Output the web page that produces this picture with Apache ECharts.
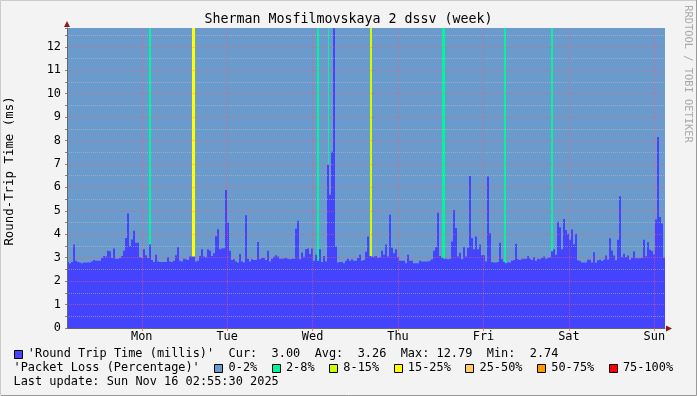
<!DOCTYPE html>
<html><head><meta charset="utf-8">
<script src="https://cdn.jsdelivr.net/npm/echarts@6/dist/echarts.min.js"></script>
<style>html,body{margin:0;padding:0;background:#f3f3f3;}#c{width:697px;height:396px;}</style>
</head><body><div id="c"></div>
<script>
const chartTitle = 'Sherman Mosfilmovskaya 2 dssv (week)';
const yAxisTitle = 'Round-Trip Time (ms)';
const sideText = 'RRDTOOL / TOBI OETIKER';
const dayNames = ['Mon', 'Tue', 'Wed', 'Thu', 'Fri', 'Sat', 'Sun'];
const startHour = 3;        // graph starts Sun 03:00
const spanHours = 168;      // one week
const yMax = 12.8;

// Round trip time (ms), equal time steps across the week
const rtt = [
  2.82,2.75,2.82,3.56,2.87,2.82,2.79,2.76,2.79,2.79,
  2.79,2.80,2.84,2.90,2.87,2.87,2.87,2.99,3.07,3.05,
  3.30,3.28,2.99,3.39,2.96,2.96,2.99,3.07,3.30,3.84,
  4.89,3.50,3.78,4.15,3.64,3.64,3.02,2.99,3.36,3.10,
  2.99,3.56,2.90,2.82,3.13,2.84,2.82,2.82,2.82,2.82,
  3.02,2.84,2.82,2.87,3.10,3.45,2.87,2.84,2.96,2.93,
  2.90,3.05,3.05,3.05,2.84,2.87,3.07,3.36,3.05,3.02,
  3.36,3.30,3.07,3.19,3.92,4.21,3.36,3.39,3.40,5.89,
  4.49,3.30,2.90,2.93,2.84,2.79,3.16,2.84,2.79,4.81,
  2.96,2.84,2.93,2.90,2.90,3.67,2.93,2.99,2.99,2.90,
  3.30,2.84,2.95,3.04,3.10,3.05,2.96,2.96,2.97,2.99,
  2.96,2.93,2.96,2.96,4.24,4.58,2.93,3.22,3.04,3.36,
  3.39,3.16,3.39,2.87,3.13,2.87,3.36,2.82,3.07,2.84,
  6.97,5.69,7.52,12.79,3.48,2.79,2.82,2.82,2.76,2.87,
  2.96,2.87,2.93,2.87,2.87,2.99,3.13,2.87,2.90,3.25,
  3.90,3.07,3.05,3.04,3.07,3.00,3.02,3.30,3.13,3.56,
  3.05,4.83,3.42,3.19,3.36,3.02,2.87,2.87,2.87,2.76,
  3.13,2.87,2.87,2.76,2.76,2.76,2.87,2.84,2.84,2.84,
  2.84,2.87,2.93,3.30,3.45,4.92,3.07,3.00,2.96,2.96,
  2.93,2.96,3.69,5.04,4.27,3.05,3.21,2.93,3.45,3.05,
  3.42,6.49,3.84,3.36,3.90,3.36,3.56,3.10,3.10,2.84,
  6.46,4.04,2.82,2.79,2.80,2.82,3.64,2.93,2.82,2.76,
  2.80,2.79,2.87,2.90,3.59,2.93,2.90,2.96,2.96,2.96,
  3.07,2.96,2.90,3.02,2.87,2.96,2.93,2.99,3.05,2.96,
  2.99,3.02,3.28,3.36,3.13,4.53,4.30,3.36,4.65,4.18,
  4.02,3.77,4.20,3.57,4.02,2.89,2.86,2.80,2.80,2.80,
  2.91,2.91,2.80,3.23,2.78,2.89,2.91,2.86,2.91,3.09,
  2.91,3.83,3.31,3.09,2.89,3.77,5.62,3.03,3.17,3.03,
  3.09,2.91,3.00,3.26,2.98,2.98,2.98,3.00,3.77,3.06,
  3.66,3.34,3.29,3.14,4.63,8.15,4.74,4.46,3.00
];

// Packet loss periods: start (hours from graph start), end, loss class index
const lossStart = [23.10, 35.17, 70.29, 73.38, 85.18, 105.41, 122.83, 136.03];
const lossEnd   = [23.66, 36.01, 70.85, 73.66, 85.74, 106.25, 123.39, 136.59];
const lossClass = [1, 3, 1, 1, 2, 1, 1, 1];

const lossLabels = ['0-2%', '2-8%', '8-15%', '15-25%', '25-50%', '50-75%', '75-100%'];
const lossColors = ['#6a9bcc', '#00f59c', '#ccff00', '#ffff00', '#ffcc66', '#ff9900', '#ff0000'];
const rttColor = '#4444ff';

const statCur = '3.00', statAvg = '3.26', statMax = '12.79', statMin = '2.74';
const lastUpdate = 'Sun Nov 16 02:55:30 2025';

// ---- build ----
const FONT = '"DejaVu Sans Mono", monospace';
const dt = spanHours / rtt.length;
const rttData = rtt.map((v, i) => [i * dt, (i + 1) * dt, v]);

const hourCats = [];
for (let h = 0; h <= spanHours; h++) {
  const abs = startHour + h;
  hourCats.push(abs % 24 === 0 ? dayNames[abs / 24 - 1] : '');
}
const isDay = (idx, val) => val !== '';

const lossData = lossStart.map((s, i) => [s, lossEnd[i], lossClass[i]]);

// legend lines on a monospace grid
const charW = 7.17, x0 = 13.5;
const graphics = [];
function addLine(str, y, boxColors) {
  let bi = 0;
  const re = /\S+/g; let m;
  while ((m = re.exec(str))) {
    const x = x0 + m.index * charW;
    if (m[0] === '#') {
      graphics.push({type: 'rect', shape: {x: Math.round(x) + 0.5, y: Math.round(y - 4.5) + 0.5, width: 8, height: 8},
        style: {fill: boxColors[bi++], stroke: '#000', lineWidth: 1}});
    } else {
      graphics.push({type: 'text', x: x, y: y,
        style: {text: m[0], fill: '#000', font: '11.9px ' + FONT, textAlign: 'left', textVerticalAlign: 'middle'}});
    }
  }
}
addLine("# 'Round Trip Time (millis)'  Cur:  " + statCur + "  Avg:  " + statAvg + "  Max: " + statMax + "  Min:  " + statMin, 354, [rttColor]);
addLine("'Packet Loss (Percentage)'" + lossLabels.map(l => '  # ' + l).join(''), 368.3, lossColors);
addLine('Last update: ' + lastUpdate, 382.3, []);

graphics.push({type: 'text', x: 348.5, y: 19.7,
  style: {text: chartTitle, fill: '#000', font: '13.3px ' + FONT, textAlign: 'center', textVerticalAlign: 'middle'}});
graphics.push({type: 'text', x: 10, y: 171, rotation: Math.PI / 2,
  style: {text: yAxisTitle, fill: '#000', font: '12.4px ' + FONT, textAlign: 'center', textVerticalAlign: 'middle'}});
graphics.push({type: 'text', x: 688, y: 74, rotation: -Math.PI / 2,
  style: {text: sideText, fill: '#aaaaaa', font: '10.4px ' + FONT, textAlign: 'center', textVerticalAlign: 'middle'}});
graphics.push({type: 'polygon', shape: {points: [[67, 21], [64, 27], [70, 27]]}, style: {fill: '#8b1a1a'}});
graphics.push({type: 'polygon', shape: {points: [[672, 328.5], [666, 325.5], [666, 331.5]]}, style: {fill: '#8b1a1a'}});
// frame
graphics.push({type: 'polyline', shape: {points: [[0.5, 395], [0.5, 0.5], [696, 0.5]]}, style: {stroke: '#cbcbcb', lineWidth: 1}});
graphics.push({type: 'polyline', shape: {points: [[1, 395.5], [696.5, 395.5], [696.5, 0]]}, style: {stroke: '#999999', lineWidth: 1}});

const majorLine = {show: true, lineStyle: {color: 'rgba(255,90,90,0.55)', width: 1, type: [1, 1]}};
const minorLine = {show: true, lineStyle: {color: 'rgba(190,190,190,0.55)', width: 1, type: [1, 1]}};

function colRect(p0, p1) {
  const xa = Math.round(p0[0]), xb = Math.max(xa + 1, Math.round(p1[0]));
  return {x: xa, y: p0[1], width: xb - xa, height: p1[1] - p0[1]};
}

const chart = echarts.init(document.getElementById('c'), null, {renderer: 'canvas'});
chart.setOption({
  animation: false,
  backgroundColor: '#f3f3f3',
  grid: {left: 67, top: 28, width: 598, height: 300, show: true, backgroundColor: lossColors[0], borderWidth: 0},
  xAxis: [
    {type: 'value', min: 0, max: spanHours, show: false},
    {type: 'category', data: hourCats, boundaryGap: false, position: 'bottom', z: 5,
      axisLine: {show: true, lineStyle: {color: '#666', width: 1}},
      axisTick: {show: true, interval: isDay, length: 3, inside: false, lineStyle: {color: 'rgba(255,90,90,0.8)'}},
      axisLabel: {show: true, interval: isDay, color: '#000', fontFamily: FONT, fontSize: 11.9, margin: 3},
      splitLine: Object.assign({interval: isDay}, majorLine)}
  ],
  yAxis: {type: 'value', min: 0, max: yMax, interval: 1, z: 5,
    axisLine: {show: true, lineStyle: {color: '#666', width: 1}},
    axisTick: {show: true, length: 2, lineStyle: {color: '#888'}},
    minorTick: {show: true, splitNumber: 2, length: 2, lineStyle: {color: '#888'}},
    axisLabel: {color: '#000', fontFamily: FONT, fontSize: 11.9, margin: 6, showMaxLabel: false,
      formatter: v => (Number.isInteger(v) ? String(v) : '')},
    splitLine: Object.assign({showMaxLine: false}, majorLine),
    minorSplitLine: minorLine},
  series: [
    {type: 'custom', name: 'loss', xAxisIndex: 0, yAxisIndex: 0, z: 1, data: lossData,
      encode: {x: [0, 1]},
      renderItem: (params, api) => ({type: 'rect',
        shape: colRect(api.coord([api.value(0), yMax]), api.coord([api.value(1), 0])),
        style: {fill: lossColors[api.value(2)]}})},
    {type: 'custom', name: 'rtt', xAxisIndex: 0, yAxisIndex: 0, z: 2, data: rttData,
      encode: {x: [0, 1], y: 2},
      renderItem: (params, api) => ({type: 'rect',
        shape: colRect(api.coord([api.value(0), api.value(2)]), api.coord([api.value(1), 0])),
        style: {fill: rttColor}})}
  ],
  graphic: graphics
});
</script></body></html>
